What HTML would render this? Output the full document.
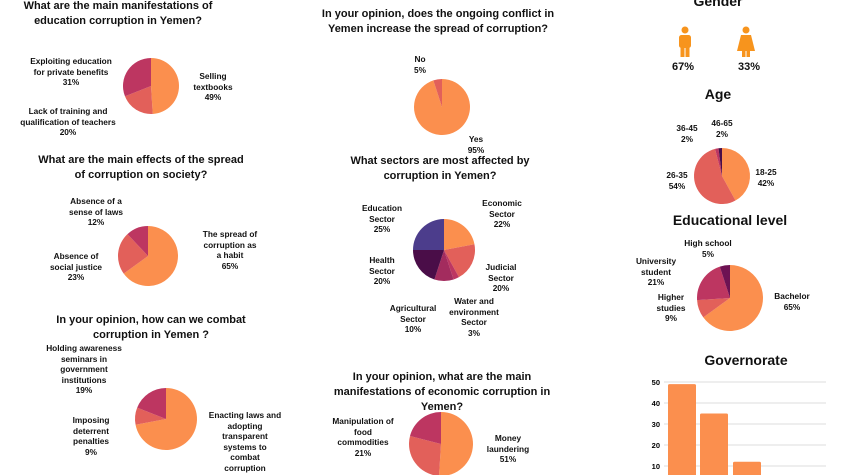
<!DOCTYPE html>
<html><head><meta charset="utf-8"><style>
body{margin:0;width:845px;height:475px;background:#fff;overflow:hidden;position:relative;font-family:"Liberation Sans",sans-serif;color:#111}
.t{position:absolute;transform:translateX(-50%);text-align:center;font-weight:bold;font-size:8.3px;line-height:10.5px;white-space:nowrap}
.h{position:absolute;transform:translateX(-50%);text-align:center;font-weight:bold;font-size:11px;line-height:15px;white-space:nowrap}
.b{position:absolute;transform:translateX(-50%);font-weight:bold;font-size:15px;white-space:nowrap}
svg{position:absolute;left:0;top:0}
</style></head><body>
<svg id="s" width="845" height="475"></svg>

<div class="h" style="left:118px;top:-1px">What are the main manifestations of<br>education corruption in Yemen?</div>
<div class="t" style="left:71px;top:56px">Exploiting education<br>for private benefits<br>31%</div>
<div class="t" style="left:68px;top:106px">Lack of training and<br>qualification of teachers<br>20%</div>
<div class="t" style="left:213px;top:71px">Selling<br>textbooks<br>49%</div>

<div class="h" style="left:141px;top:153px">What are the main effects of the spread<br>of corruption on society?</div>
<div class="t" style="left:96px;top:196px">Absence of a<br>sense of laws<br>12%</div>
<div class="t" style="left:76px;top:251px">Absence of<br>social justice<br>23%</div>
<div class="t" style="left:230px;top:229px">The spread of<br>corruption as<br>a habit<br>65%</div>

<div class="h" style="left:151px;top:313px">In your opinion, how can we combat<br>corruption in Yemen ?</div>
<div class="t" style="left:84px;top:343px">Holding awareness<br>seminars in<br>government<br>institutions<br>19%</div>
<div class="t" style="left:91px;top:415px">Imposing<br>deterrent<br>penalties<br>9%</div>
<div class="t" style="left:245px;top:410px">Enacting laws and<br>adopting<br>transparent<br>systems to<br>combat<br>corruption</div>

<div class="h" style="left:438px;top:7px">In your opinion, does the ongoing conflict in<br>Yemen increase the spread of corruption?</div>
<div class="t" style="left:420px;top:54px">No<br>5%</div>
<div class="t" style="left:476px;top:134px">Yes<br>95%</div>

<div class="h" style="left:440px;top:154px">What sectors are most affected by<br>corruption in Yemen?</div>
<div class="t" style="left:382px;top:203px">Education<br>Sector<br>25%</div>
<div class="t" style="left:502px;top:198px">Economic<br>Sector<br>22%</div>
<div class="t" style="left:382px;top:255px">Health<br>Sector<br>20%</div>
<div class="t" style="left:501px;top:262px">Judicial<br>Sector<br>20%</div>
<div class="t" style="left:413px;top:303px">Agricultural<br>Sector<br>10%</div>
<div class="t" style="left:474px;top:296px">Water and<br>environment<br>Sector<br>3%</div>

<div class="h" style="left:442px;top:370px">In your opinion, what are the main<br>manifestations of economic corruption in<br>Yemen?</div>
<div class="t" style="left:363px;top:416px">Manipulation of<br>food<br>commodities<br>21%</div>
<div class="t" style="left:508px;top:433px">Money<br>laundering<br>51%</div>

<div class="h" style="left:718px;top:-6px;font-size:14px">Gender</div>
<div class="b" style="left:683px;top:61px;font-size:11px">67%</div>
<div class="b" style="left:749px;top:61px;font-size:11px">33%</div>
<div class="h" style="left:718px;top:87px;font-size:14px">Age</div>
<div class="t" style="left:687px;top:123px">36-45<br>2%</div>
<div class="t" style="left:722px;top:118px">46-65<br>2%</div>
<div class="t" style="left:677px;top:170px">26-35<br>54%</div>
<div class="t" style="left:766px;top:167px">18-25<br>42%</div>
<div class="h" style="left:730px;top:213px;font-size:14px">Educational level</div>
<div class="t" style="left:708px;top:238px">High school<br>5%</div>
<div class="t" style="left:656px;top:256px">University<br>student<br>21%</div>
<div class="t" style="left:671px;top:292px">Higher<br>studies<br>9%</div>
<div class="t" style="left:792px;top:291px">Bachelor<br>65%</div>
<div class="h" style="left:746px;top:353px;font-size:14px">Governorate</div>

<script>
var s=document.getElementById('s'),NS='http://www.w3.org/2000/svg';
function el(n,a){var e=document.createElementNS(NS,n);for(var k in a)e.setAttribute(k,a[k]);s.appendChild(e);return e}
var O='#fb8f4e',S='#e2605a',C='#bd3661',D='#6e1253',P='#4a0d48',I='#4c3d8c',M='#a32c5e';
function pie(cx,cy,r,parts){var a=0;parts.forEach(function(p){var v=p[0]/100,a1=a+v*2*Math.PI;
 var x0=cx+r*Math.sin(a),y0=cy-r*Math.cos(a),x1=cx+r*Math.sin(a1),y1=cy-r*Math.cos(a1);
 if(v>=0.999){el('circle',{cx:cx,cy:cy,r:r,fill:p[1]});}else
 el('path',{d:'M'+cx+' '+cy+'L'+x0+' '+y0+'A'+r+' '+r+' 0 '+(v>0.5?1:0)+' 1 '+x1+' '+y1+'Z',fill:p[1]});a=a1;});}
pie(151,86,28,[[49,O],[20,S],[31,C]]);
pie(148,256,30,[[65,O],[23,S],[12,C]]);
pie(166,419,31,[[72,O],[9,S],[19,C]]);
pie(442,107,28,[[95,O],[5,S]]);
pie(444,250,31,[[22,O],[20,S],[3,C],[10,M],[20,P],[25,I]]);
pie(441,444,32,[[51,O],[28,S],[21,C]]);
pie(722,176,28,[[42,O],[54,S],[2,C],[2,P]]);
pie(730,298,33,[[65,O],[9,S],[21,C],[5,D]]);
[50,40,30,20,10].forEach(function(v,i){var y=382+i*21;
 el('line',{x1:664,y1:y,x2:826,y2:y,stroke:'#ddd','stroke-width':1});
 var t=el('text',{x:660,y:y+3,'text-anchor':'end','font-size':'7.5','font-weight':'bold','font-family':'Liberation Sans'});t.textContent=v;});
[[668,49],[700,35],[733,12]].forEach(function(b){var h=b[1]*2.1;el('rect',{x:b[0],y:487-h,width:28,height:h,fill:O,rx:1.5})});
var G='#f7941d';
el('circle',{cx:685,cy:30,r:3.5,fill:G});el('rect',{x:679,y:35,width:12,height:13,rx:2.5,fill:G});
el('rect',{x:680.5,y:46,width:4,height:11,fill:G});el('rect',{x:685.5,y:46,width:4,height:11,fill:G});
el('circle',{cx:746,cy:30,r:3.5,fill:G});
el('path',{d:'M741 35h10l4 16h-18z',fill:G});
el('rect',{x:742,y:49,width:3.5,height:8,fill:G});el('rect',{x:746.5,y:49,width:3.5,height:8,fill:G});
</script>
</body></html>
